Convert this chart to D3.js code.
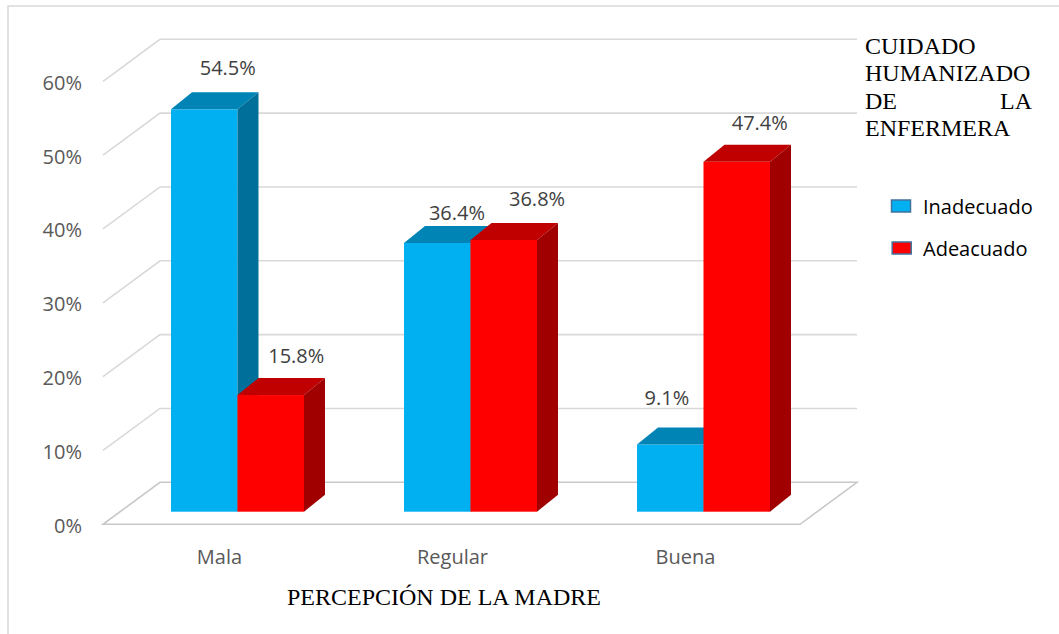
<!DOCTYPE html>
<html>
<head>
<meta charset="utf-8">
<script src="https://cdn.jsdelivr.net/npm/d3@7"></script>
<style>
  body { margin: 0; background: #fff; }
  svg { display: block; }
</style>
</head>
<body>
<div id="chart"></div>
<script>
// data
const categories = ["Mala", "Regular", "Buena"];
const seriesNames = ["Inadecuado", "Adeacuado"];
const inadecuado = [0.545, 0.364, 0.091];
const adeacuado = [0.158, 0.368, 0.474];
const yTicks = [0, 0.1, 0.2, 0.3, 0.4, 0.5, 0.6];
const legendTitle = ["CUIDADO", "HUMANIZADO", "DE LA", "ENFERMERA"];
const axisTitle = "PERCEPCIÓN DE LA MADRE";

const width = 1059, height = 634;

// colours: front, top, side
const colors = [
    { front: "#00b0f0", top: "#0084b6", side: "#00709a" },
    { front: "#ff0000", top: "#c00000", side: "#a00000" }
];

const svg = d3.select("#chart")
    .append("svg")
    .attr("width", width)
    .attr("height", height);

// chart frame (only top & left visible)
svg.append("path")
    .attr("d", `M8,${height} L8,6 L${width},6`)
    .attr("fill", "none")
    .attr("stroke", "#d9d9d9")
    .attr("stroke-width", 1.5);

// back wall scale, and the 3d offsets
const yBack = d3.scaleLinear().domain([0, 0.6]).range([482.3, 39.3]);
const wallLeft = 160, wallRight = 857;
const floorDx = -57, floorDy = 42;      // back wall -> front edge
const barDy = 29.4;                      // back wall -> bar front plane
const depth = { dx: 21, dy: -17 };       // bar depth
const yBar = d => yBack(d) + barDy;

// gridlines on the back wall + diagonal on the left side
const grid = svg.append("g").attr("fill", "none").attr("stroke", "#d9d9d9").attr("stroke-width", 1.6);
yTicks.forEach(t => {
    if (t === 0) return;
    grid.append("path")
        .attr("d", `M${wallLeft + floorDx},${yBack(t) + floorDy} L${wallLeft},${yBack(t)} L${wallRight},${yBack(t)}`);
});
// floor
svg.append("path")
    .attr("d", `M${wallLeft},${yBack(0)} L${wallRight},${yBack(0)} L${wallRight + floorDx},${yBack(0) + floorDy} L${wallLeft + floorDx},${yBack(0) + floorDy} Z`)
    .attr("fill", "#fff")
    .attr("stroke", "#c8c8c8")
    .attr("stroke-width", 1.6);

// y tick labels
svg.append("g")
    .selectAll("text")
    .data(yTicks)
    .join("text")
    .attr("x", 82)
    .attr("y", d => yBack(d) + floorDy + 1)
    .attr("text-anchor", "end")
    .attr("dominant-baseline", "central")
    .attr("font-family", "'Open Sans', sans-serif")
    .attr("font-size", 20)
    .attr("fill", "#595959")
    .text(d3.format(".0%"));

// x positions
const xGroup = d3.scalePoint().domain(categories).range([237.5, 703.5]);
const barW = 66.5;
const xSub = d3.scaleBand().domain(seriesNames).range([-barW, barW]);

// label nudges (Excel placed these around the bars)
const labelNudge = [
    [[23.5, -25], [25.5, -23]],
    [[19.7, -13.7], [33.3, -24.3]],
    [[-3.3, -30.3], [23, -22.6]]
];

const bars = svg.append("g");
categories.forEach((c, i) => {
    [inadecuado[i], adeacuado[i]].forEach((v, s) => {
        const x0 = xGroup(c) + xSub(seriesNames[s]);
        const x1 = x0 + barW;
        const yt = yBar(v), yb = yBar(0);
        const col = colors[s];
        const g = bars.append("g");
        g.append("rect")
            .attr("x", x0).attr("y", yt)
            .attr("width", barW).attr("height", yb - yt)
            .attr("fill", col.front);
        g.append("path")
            .attr("d", `M${x0},${yt} L${x0 + depth.dx},${yt + depth.dy} L${x1 + depth.dx},${yt + depth.dy} L${x1},${yt} Z`)
            .attr("fill", col.top);
        g.append("path")
            .attr("d", `M${x1},${yt} L${x1 + depth.dx},${yt + depth.dy} L${x1 + depth.dx},${yb + depth.dy} L${x1},${yb} Z`)
            .attr("fill", col.side);
        const n = labelNudge[i][s];
        g.append("text")
            .attr("x", x0 + barW / 2 + n[0])
            .attr("y", yt + depth.dy + n[1])
            .attr("text-anchor", "middle")
            .attr("dominant-baseline", "central")
            .attr("font-family", "'Open Sans', sans-serif")
            .attr("font-size", 20)
            .attr("fill", "#404040")
            .text(d3.format(".1%")(v));
    });
});

// category labels
svg.append("g")
    .selectAll("text")
    .data(categories)
    .join("text")
    .attr("x", d => xGroup(d) - 18)
    .attr("y", 556)
    .attr("text-anchor", "middle")
    .attr("dominant-baseline", "central")
    .attr("font-family", "'Open Sans', sans-serif")
    .attr("font-size", 20)
    .attr("fill", "#595959")
    .text(d => d);

// axis title
svg.append("text")
    .attr("x", 444)
    .attr("y", 597)
    .attr("text-anchor", "middle")
    .attr("dominant-baseline", "central")
    .attr("font-family", "'Liberation Serif', 'Times New Roman', serif")
    .attr("font-size", 24)
    .attr("fill", "#000")
    .text(axisTitle);

// legend title, justified block
const lt = svg.append("g")
    .attr("font-family", "'Liberation Serif', 'Times New Roman', serif")
    .attr("font-size", 24)
    .attr("fill", "#000");
legendTitle.forEach((line, i) => {
    const y = 46 + i * 27.4;
    const words = line.split(" ");
    if (words.length > 1) {
        lt.append("text").attr("x", 865).attr("y", y).attr("dominant-baseline", "central").text(words[0]);
        lt.append("text").attr("x", 1032).attr("y", y).attr("text-anchor", "end").attr("dominant-baseline", "central").text(words[1]);
    } else {
        lt.append("text").attr("x", 865).attr("y", y).attr("dominant-baseline", "central").text(line);
    }
});

// legend items
const leg = svg.append("g");
seriesNames.forEach((name, s) => {
    const y = 206.5 + s * 42;
    leg.append("rect")
        .attr("x", 891.5 + s * 0.7).attr("y", y - 6.5)
        .attr("width", 19).attr("height", 12)
        .attr("fill", colors[s].front)
        .attr("stroke", "#41719c")
        .attr("stroke-width", 1.5);
    leg.append("text")
        .attr("x", 923)
        .attr("y", y)
        .attr("dominant-baseline", "central")
        .attr("font-family", "'Open Sans', sans-serif")
        .attr("font-size", 20)
        .attr("fill", "#000")
        .text(name);
});
</script>
</body>
</html>
